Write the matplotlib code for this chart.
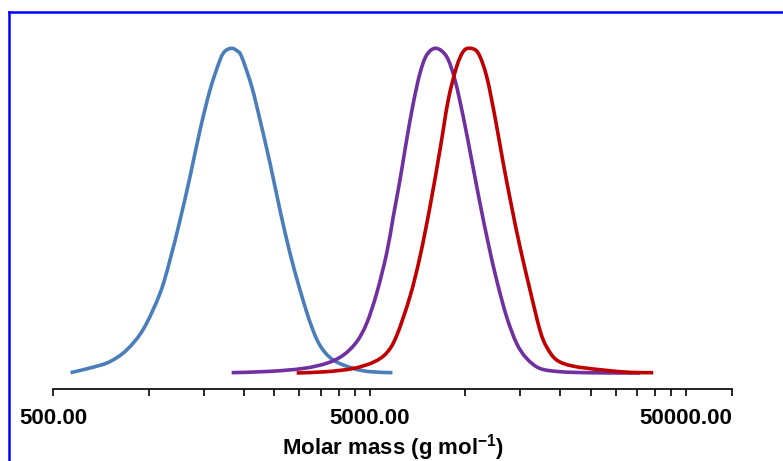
import numpy as np
import matplotlib.pyplot as plt
from matplotlib.lines import Line2D
from matplotlib.patches import PathPatch
from matplotlib.path import Path
from matplotlib.ticker import FixedLocator, NullFormatter

plt.rcParams["font.family"] = ["Liberation Sans", "DejaVu Sans"]
plt.rcParams["mathtext.fontset"] = "custom"
plt.rcParams["mathtext.rm"] = "Liberation Sans:bold"
plt.rcParams["mathtext.bf"] = "Liberation Sans:bold"

# GPC traces: molar mass (g/mol) and normalised detector response
blue_mass = [567, 669, 755, 853, 963, 1087, 1169, 1258, 1353, 1455, 1565, 1683,
             1745, 1832, 1905, 1970, 2120, 2252, 2422, 2604, 2801, 3013, 3240,
             3484, 3838, 4441, 5015, 5906]
blue_signal = [0.001, 0.018, 0.035, 0.071, 0.135, 0.245, 0.348, 0.471, 0.605,
               0.748, 0.872, 0.964, 0.991, 1.000, 0.992, 0.974, 0.882, 0.779,
               0.646, 0.502, 0.369, 0.256, 0.157, 0.085, 0.040, 0.014, 0.004,
               0.001]

purple_mass = [1832, 2422, 3086, 3660, 4129, 4552, 4896, 5264, 5664, 5940, 6238,
               6550, 6875, 7217, 7577, 8108, 8766, 9312, 9890, 10515, 11170,
               11866, 12613, 13564, 14591, 15692, 17285, 19993, 24290, 30950,
               35800]
purple_signal = [0.001, 0.005, 0.014, 0.030, 0.055, 0.096, 0.153, 0.245, 0.369,
                 0.481, 0.594, 0.718, 0.831, 0.923, 0.979, 1.000, 0.974, 0.902,
                 0.789, 0.656, 0.523, 0.399, 0.286, 0.173, 0.091, 0.045, 0.014,
                 0.004, 0.001, 0.000, 0.000]

red_mass = [2941, 3660, 4441, 5136, 5664, 6091, 6709, 7217, 7762, 8348, 8868,
            9426, 9890, 10385, 11031, 11727, 12456, 13234, 14068, 14944, 16078,
            17285, 18156, 19521, 22029, 27410, 33290, 39440]
red_signal = [0.000, 0.004, 0.014, 0.033, 0.062, 0.115, 0.235, 0.358, 0.512,
              0.687, 0.841, 0.943, 0.990, 1.000, 0.985, 0.913, 0.789, 0.646,
              0.512, 0.389, 0.256, 0.132, 0.080, 0.040, 0.021, 0.009, 0.002,
              0.001]

major_ticks = [500, 5000, 50000]
tick_labels = ["500.00", "5000.00", "50000.00"]
minor_ticks = [1000, 1500, 2000, 2500, 3000, 3500, 4000, 4500,
               10000, 15000, 20000, 25000, 30000, 35000, 40000, 45000, 70000]


def smoothed_path(mass, signal):
    """Bezier path through the points (Catmull-Rom tangents in log-mass)."""
    lx = np.log10(mass)
    y = np.asarray(signal, dtype=float)
    px = np.concatenate([[lx[0]], lx, [lx[-1]]])
    py = np.concatenate([[y[0]], y, [y[-1]]])
    verts = [(lx[0], y[0])]
    codes = [Path.MOVETO]
    for i in range(1, len(px) - 2):
        c1 = (px[i] + (px[i + 1] - px[i - 1]) / 6, py[i] + (py[i + 1] - py[i - 1]) / 6)
        c2 = (px[i + 1] - (px[i + 2] - px[i]) / 6, py[i + 1] - (py[i + 2] - py[i]) / 6)
        verts += [c1, c2, (px[i + 1], py[i + 1])]
        codes += [Path.CURVE4] * 3
    verts = np.array(verts)
    verts[:, 0] = 10 ** verts[:, 0]
    return Path(verts, codes)


def molar_mass_plot():
    fig = plt.figure(figsize=(7.83, 4.61), dpi=100)
    ax = fig.add_axes([0.0681, 0.1562, 0.8668, 0.8095])

    ax.set_xscale("log")
    ax.set_xlim(500, 70000)
    ax.set_ylim(-0.0493, 1.1)

    line_style = dict(fill=False, lw=2.6, capstyle="butt", joinstyle="round")
    for mass, signal, color in [
        (blue_mass, blue_signal, "#4A7EBB"),
        (purple_mass, purple_signal, "#7030A0"),
        (red_mass, red_signal, "#C00000"),
    ]:
        ax.add_patch(PathPatch(smoothed_path(mass, signal), edgecolor=color,
                               **line_style))

    for side in ("top", "right", "left"):
        ax.spines[side].set_visible(False)
    ax.spines["bottom"].set_linewidth(1.2)
    ax.set_yticks([])

    ax.xaxis.set_major_locator(FixedLocator(major_ticks))
    ax.xaxis.set_minor_locator(FixedLocator(minor_ticks))
    ax.xaxis.set_minor_formatter(NullFormatter())
    ax.set_xticklabels(tick_labels, fontsize=16, fontweight="bold")
    ax.tick_params(axis="x", which="both", direction="out", length=5,
                   width=1.2, pad=9)

    ax.set_xlabel("Molar mass (g mol$^{-1}$)", fontsize=16,
                  fontweight="bold", labelpad=2)

    # blue frame around the figure area
    y_top = 1 - 12 / 461
    x_left = 9 / 783
    fig.add_artist(Line2D([x_left, x_left], [0, y_top], color="#0000FF",
                          lw=1.8, transform=fig.transFigure))
    fig.add_artist(Line2D([x_left, 1], [y_top, y_top], color="#0000FF",
                          lw=1.8, transform=fig.transFigure))

    fig.savefig("out.png", dpi=100)


if __name__ == "__main__":
    molar_mass_plot()
